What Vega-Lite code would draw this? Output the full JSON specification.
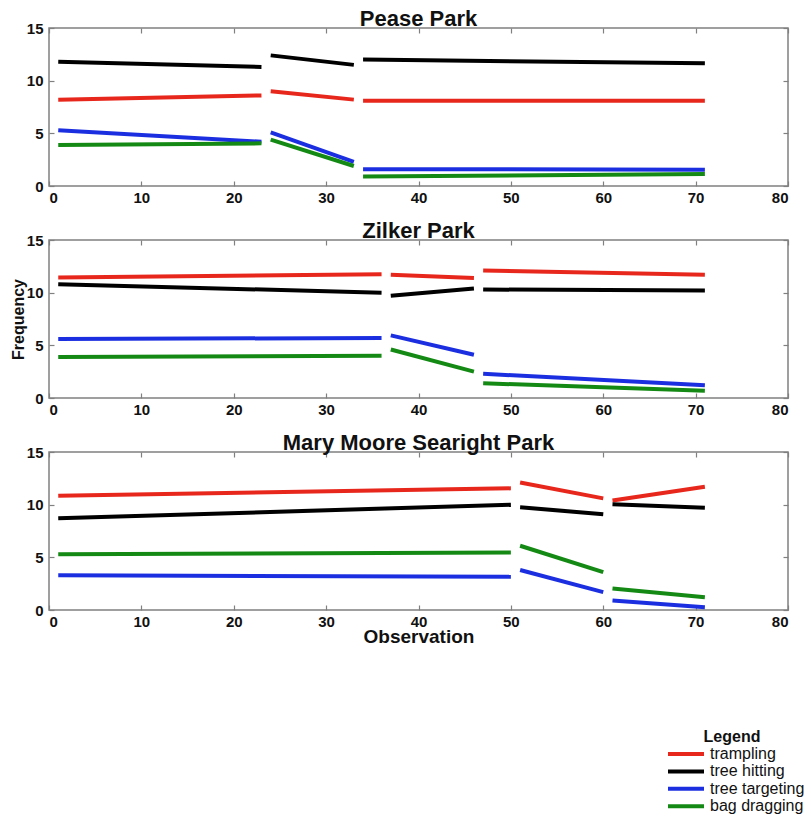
{
  "$schema": "https://vega.github.io/schema/vega-lite/v6.json",
  "background": "white",
  "padding": {"left": 9, "top": 7, "right": 0, "bottom": 0},
  "config": {
    "view": {"stroke": "#808080", "strokeWidth": 1.5},
    "font": "Liberation Sans",
    "axis": {
      "grid": false, "domain": false, "tickColor": "#808080", "tickSize": -5, "tickWidth": 1.2,
      "labelFont": "Liberation Sans", "labelFontWeight": "bold", "labelFontSize": 15, "labelColor": "#111",
      "titleFont": "Liberation Sans", "titleFontWeight": "bold", "titleFontSize": 16, "titleColor": "#111"
    },
    "title": {"font": "Liberation Sans", "fontWeight": "bold", "fontSize": 22, "color": "#111", "baseline": "alphabetic", "offset": -10}
  },
  "datasets": {
    "d": [
      {"park": "Pease Park", "seg": 1, "behavior": "trampling", "obs": 1, "freq": 8.2},
      {"park": "Pease Park", "seg": 1, "behavior": "trampling", "obs": 23, "freq": 8.6},
      {"park": "Pease Park", "seg": 2, "behavior": "trampling", "obs": 24, "freq": 9.0},
      {"park": "Pease Park", "seg": 2, "behavior": "trampling", "obs": 33, "freq": 8.2},
      {"park": "Pease Park", "seg": 3, "behavior": "trampling", "obs": 34, "freq": 8.1},
      {"park": "Pease Park", "seg": 3, "behavior": "trampling", "obs": 71, "freq": 8.1},
      {"park": "Pease Park", "seg": 1, "behavior": "tree hitting", "obs": 1, "freq": 11.8},
      {"park": "Pease Park", "seg": 1, "behavior": "tree hitting", "obs": 23, "freq": 11.3},
      {"park": "Pease Park", "seg": 2, "behavior": "tree hitting", "obs": 24, "freq": 12.4},
      {"park": "Pease Park", "seg": 2, "behavior": "tree hitting", "obs": 33, "freq": 11.5},
      {"park": "Pease Park", "seg": 3, "behavior": "tree hitting", "obs": 34, "freq": 12.0},
      {"park": "Pease Park", "seg": 3, "behavior": "tree hitting", "obs": 71, "freq": 11.65},
      {"park": "Pease Park", "seg": 1, "behavior": "tree targeting", "obs": 1, "freq": 5.3},
      {"park": "Pease Park", "seg": 1, "behavior": "tree targeting", "obs": 23, "freq": 4.2},
      {"park": "Pease Park", "seg": 2, "behavior": "tree targeting", "obs": 24, "freq": 5.1},
      {"park": "Pease Park", "seg": 2, "behavior": "tree targeting", "obs": 33, "freq": 2.3},
      {"park": "Pease Park", "seg": 3, "behavior": "tree targeting", "obs": 34, "freq": 1.6},
      {"park": "Pease Park", "seg": 3, "behavior": "tree targeting", "obs": 71, "freq": 1.55},
      {"park": "Pease Park", "seg": 1, "behavior": "bag dragging", "obs": 1, "freq": 3.9},
      {"park": "Pease Park", "seg": 1, "behavior": "bag dragging", "obs": 23, "freq": 4.05},
      {"park": "Pease Park", "seg": 2, "behavior": "bag dragging", "obs": 24, "freq": 4.4},
      {"park": "Pease Park", "seg": 2, "behavior": "bag dragging", "obs": 33, "freq": 1.9},
      {"park": "Pease Park", "seg": 3, "behavior": "bag dragging", "obs": 34, "freq": 0.9},
      {"park": "Pease Park", "seg": 3, "behavior": "bag dragging", "obs": 71, "freq": 1.15},

      {"park": "Zilker Park", "seg": 1, "behavior": "trampling", "obs": 1, "freq": 11.45},
      {"park": "Zilker Park", "seg": 1, "behavior": "trampling", "obs": 36, "freq": 11.75},
      {"park": "Zilker Park", "seg": 2, "behavior": "trampling", "obs": 37, "freq": 11.7},
      {"park": "Zilker Park", "seg": 2, "behavior": "trampling", "obs": 46, "freq": 11.4},
      {"park": "Zilker Park", "seg": 3, "behavior": "trampling", "obs": 47, "freq": 12.1},
      {"park": "Zilker Park", "seg": 3, "behavior": "trampling", "obs": 71, "freq": 11.7},
      {"park": "Zilker Park", "seg": 1, "behavior": "tree hitting", "obs": 1, "freq": 10.8},
      {"park": "Zilker Park", "seg": 1, "behavior": "tree hitting", "obs": 36, "freq": 10.0},
      {"park": "Zilker Park", "seg": 2, "behavior": "tree hitting", "obs": 37, "freq": 9.7},
      {"park": "Zilker Park", "seg": 2, "behavior": "tree hitting", "obs": 46, "freq": 10.4},
      {"park": "Zilker Park", "seg": 3, "behavior": "tree hitting", "obs": 47, "freq": 10.3},
      {"park": "Zilker Park", "seg": 3, "behavior": "tree hitting", "obs": 71, "freq": 10.2},
      {"park": "Zilker Park", "seg": 1, "behavior": "tree targeting", "obs": 1, "freq": 5.6},
      {"park": "Zilker Park", "seg": 1, "behavior": "tree targeting", "obs": 36, "freq": 5.7},
      {"park": "Zilker Park", "seg": 2, "behavior": "tree targeting", "obs": 37, "freq": 5.95},
      {"park": "Zilker Park", "seg": 2, "behavior": "tree targeting", "obs": 46, "freq": 4.1},
      {"park": "Zilker Park", "seg": 3, "behavior": "tree targeting", "obs": 47, "freq": 2.3},
      {"park": "Zilker Park", "seg": 3, "behavior": "tree targeting", "obs": 71, "freq": 1.2},
      {"park": "Zilker Park", "seg": 1, "behavior": "bag dragging", "obs": 1, "freq": 3.9},
      {"park": "Zilker Park", "seg": 1, "behavior": "bag dragging", "obs": 36, "freq": 4.0},
      {"park": "Zilker Park", "seg": 2, "behavior": "bag dragging", "obs": 37, "freq": 4.6},
      {"park": "Zilker Park", "seg": 2, "behavior": "bag dragging", "obs": 46, "freq": 2.5},
      {"park": "Zilker Park", "seg": 3, "behavior": "bag dragging", "obs": 47, "freq": 1.4},
      {"park": "Zilker Park", "seg": 3, "behavior": "bag dragging", "obs": 71, "freq": 0.7},

      {"park": "Mary Moore Searight Park", "seg": 1, "behavior": "trampling", "obs": 1, "freq": 10.85},
      {"park": "Mary Moore Searight Park", "seg": 1, "behavior": "trampling", "obs": 50, "freq": 11.55},
      {"park": "Mary Moore Searight Park", "seg": 2, "behavior": "trampling", "obs": 51, "freq": 12.1},
      {"park": "Mary Moore Searight Park", "seg": 2, "behavior": "trampling", "obs": 60, "freq": 10.6},
      {"park": "Mary Moore Searight Park", "seg": 3, "behavior": "trampling", "obs": 61, "freq": 10.4},
      {"park": "Mary Moore Searight Park", "seg": 3, "behavior": "trampling", "obs": 71, "freq": 11.7},
      {"park": "Mary Moore Searight Park", "seg": 1, "behavior": "tree hitting", "obs": 1, "freq": 8.7},
      {"park": "Mary Moore Searight Park", "seg": 1, "behavior": "tree hitting", "obs": 50, "freq": 10.0},
      {"park": "Mary Moore Searight Park", "seg": 2, "behavior": "tree hitting", "obs": 51, "freq": 9.75},
      {"park": "Mary Moore Searight Park", "seg": 2, "behavior": "tree hitting", "obs": 60, "freq": 9.1},
      {"park": "Mary Moore Searight Park", "seg": 3, "behavior": "tree hitting", "obs": 61, "freq": 10.05},
      {"park": "Mary Moore Searight Park", "seg": 3, "behavior": "tree hitting", "obs": 71, "freq": 9.7},
      {"park": "Mary Moore Searight Park", "seg": 1, "behavior": "tree targeting", "obs": 1, "freq": 3.3},
      {"park": "Mary Moore Searight Park", "seg": 1, "behavior": "tree targeting", "obs": 50, "freq": 3.15},
      {"park": "Mary Moore Searight Park", "seg": 2, "behavior": "tree targeting", "obs": 51, "freq": 3.8},
      {"park": "Mary Moore Searight Park", "seg": 2, "behavior": "tree targeting", "obs": 60, "freq": 1.7},
      {"park": "Mary Moore Searight Park", "seg": 3, "behavior": "tree targeting", "obs": 61, "freq": 0.9},
      {"park": "Mary Moore Searight Park", "seg": 3, "behavior": "tree targeting", "obs": 71, "freq": 0.25},
      {"park": "Mary Moore Searight Park", "seg": 1, "behavior": "bag dragging", "obs": 1, "freq": 5.3},
      {"park": "Mary Moore Searight Park", "seg": 1, "behavior": "bag dragging", "obs": 50, "freq": 5.45},
      {"park": "Mary Moore Searight Park", "seg": 2, "behavior": "bag dragging", "obs": 51, "freq": 6.1},
      {"park": "Mary Moore Searight Park", "seg": 2, "behavior": "bag dragging", "obs": 60, "freq": 3.6},
      {"park": "Mary Moore Searight Park", "seg": 3, "behavior": "bag dragging", "obs": 61, "freq": 2.05},
      {"park": "Mary Moore Searight Park", "seg": 3, "behavior": "bag dragging", "obs": 71, "freq": 1.2}
    ]
  },
  "spacing": 13,
  "vconcat": [
    {
      "width": 739, "height": 158,
      "title": {"text": "Pease Park"},
      "data": {"name": "d"},
      "transform": [{"filter": "datum.park === 'Pease Park'"}],
      "layer": [
        {
          "mark": {"type": "line", "strokeWidth": 4, "strokeCap": "butt"},
          "encoding": {
            "x": {"field": "obs", "type": "quantitative", "scale": {"domain": [0, 80], "nice": false}, "axis": {"orient": "bottom", "values": [0,10,20,30,40,50,60,70,80], "title": null, "labelPadding": 9}},
            "y": {"field": "freq", "type": "quantitative", "scale": {"domain": [0, 15], "nice": false}, "axis": {"orient": "left", "values": [0,5,10,15], "title": null, "labelPadding": 11}},
            "color": {"field": "behavior", "type": "nominal", "scale": {"domain": ["trampling", "tree hitting", "tree targeting", "bag dragging"], "range": ["#e8271c", "#000000", "#1c2fe0", "#148a14"]}},
            "detail": {"field": "seg"}
          }
        },
        {
          "mark": {"type": "line", "opacity": 0},
          "encoding": {
            "x": {"field": "obs", "type": "quantitative", "axis": {"orient": "top", "values": [0,10,20,30,40,50,60,70,80], "labels": false, "title": null}},
            "y": {"field": "freq", "type": "quantitative", "axis": {"orient": "right", "values": [0,5,10,15], "labels": false, "title": null}},
            "detail": {"field": "seg"}
          }
        }
      ],
      "resolve": {"axis": {"x": "independent", "y": "independent"}}
    },
    {
      "width": 739, "height": 158,
      "title": {"text": "Zilker Park"},
      "data": {"name": "d"},
      "transform": [{"filter": "datum.park === 'Zilker Park'"}],
      "layer": [
        {
          "mark": {"type": "line", "strokeWidth": 4, "strokeCap": "butt"},
          "encoding": {
            "x": {"field": "obs", "type": "quantitative", "scale": {"domain": [0, 80], "nice": false}, "axis": {"orient": "bottom", "values": [0,10,20,30,40,50,60,70,80], "title": null, "labelPadding": 9}},
            "y": {"field": "freq", "type": "quantitative", "scale": {"domain": [0, 15], "nice": false}, "axis": {"orient": "left", "values": [0,5,10,15], "title": "Frequency", "titleX": -31, "titleBaseline": "middle", "labelPadding": 11}},
            "color": {"field": "behavior", "type": "nominal", "scale": {"domain": ["trampling", "tree hitting", "tree targeting", "bag dragging"], "range": ["#e8271c", "#000000", "#1c2fe0", "#148a14"]}},
            "detail": {"field": "seg"}
          }
        },
        {
          "mark": {"type": "line", "opacity": 0},
          "encoding": {
            "x": {"field": "obs", "type": "quantitative", "axis": {"orient": "top", "values": [0,10,20,30,40,50,60,70,80], "labels": false, "title": null}},
            "y": {"field": "freq", "type": "quantitative", "axis": {"orient": "right", "values": [0,5,10,15], "labels": false, "title": null}},
            "detail": {"field": "seg"}
          }
        }
      ],
      "resolve": {"axis": {"x": "independent", "y": "independent"}}
    },
    {
      "width": 739, "height": 158,
      "title": {"text": "Mary Moore Searight Park"},
      "data": {"name": "d"},
      "transform": [{"filter": "datum.park === 'Mary Moore Searight Park'"}],
      "layer": [
        {
          "mark": {"type": "line", "strokeWidth": 4, "strokeCap": "butt"},
          "encoding": {
            "x": {"field": "obs", "type": "quantitative", "scale": {"domain": [0, 80], "nice": false}, "axis": {"orient": "bottom", "values": [0,10,20,30,40,50,60,70,80], "title": "Observation", "titleFontSize": 19, "titleY": 32, "titleBaseline": "alphabetic", "labelPadding": 9}},
            "y": {"field": "freq", "type": "quantitative", "scale": {"domain": [0, 15], "nice": false}, "axis": {"orient": "left", "values": [0,5,10,15], "title": null, "labelPadding": 11}},
            "color": {"field": "behavior", "type": "nominal", "scale": {"domain": ["trampling", "tree hitting", "tree targeting", "bag dragging"], "range": ["#e8271c", "#000000", "#1c2fe0", "#148a14"]},
              "legend": {"orient": "none", "legendX": 611, "legendY": 701, "title": "Legend", "titleFontSize": 16, "titleFontWeight": "bold", "titleColor": "#111", "titleAnchor": "middle", "titleFont": "Liberation Sans", "titlePadding": 1, "labelFont": "Liberation Sans", "labelFontSize": 16, "labelColor": "#111", "symbolType": "M0,0H12", "symbolSize": 36, "symbolStrokeWidth": 4, "labelOffset": 34, "rowPadding": 1.4}},
            "detail": {"field": "seg"}
          }
        },
        {
          "mark": {"type": "line", "opacity": 0},
          "encoding": {
            "x": {"field": "obs", "type": "quantitative", "axis": {"orient": "top", "values": [0,10,20,30,40,50,60,70,80], "labels": false, "title": null}},
            "y": {"field": "freq", "type": "quantitative", "axis": {"orient": "right", "values": [0,5,10,15], "labels": false, "title": null}},
            "detail": {"field": "seg"}
          }
        }
      ],
      "resolve": {"axis": {"x": "independent", "y": "independent"}}
    }
  ]
}
